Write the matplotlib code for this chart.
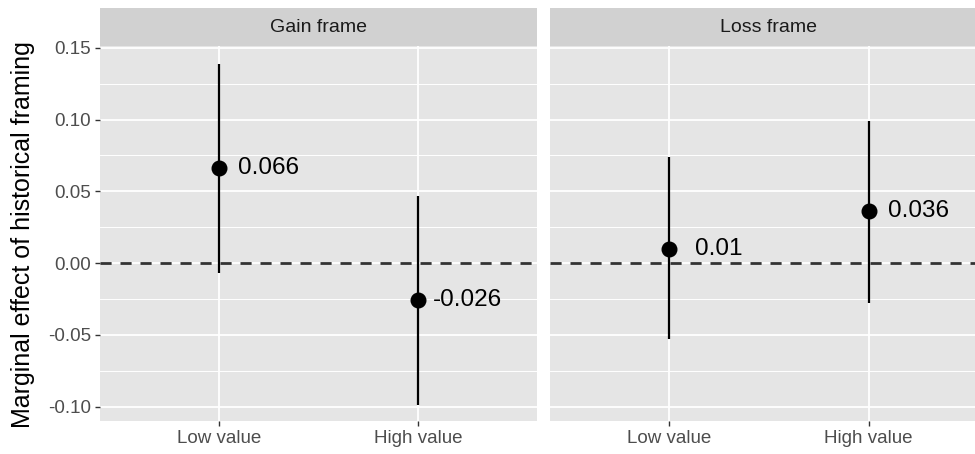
import matplotlib
matplotlib.use("Agg")
import matplotlib.pyplot as plt
from matplotlib.ticker import MultipleLocator

plt.rcParams['font.family'] = ['Liberation Sans', 'DejaVu Sans']

# marginal effects with 95% intervals, one facet per frame
frames = ['Gain frame', 'Loss frame']
conditions = ['Low value', 'High value']
estimates = {'Gain frame': [0.066, -0.026], 'Loss frame': [0.010, 0.036]}
lower = {'Gain frame': [-0.007, -0.099], 'Loss frame': [-0.053, -0.028]}
upper = {'Gain frame': [0.139, 0.047], 'Loss frame': [0.074, 0.099]}
labels = {'Gain frame': ['0.066', '-0.026'], 'Loss frame': ['0.01', '0.036']}

W, H = 975, 454
fig = plt.figure(figsize=(W / 100, H / 100), dpi=100)

def box(x0, y0, x1, y1):
    # pixel box -> figure fraction rect
    return [x0 / W, 1 - y1 / H, (x1 - x0) / W, (y1 - y0) / H]

panels = [(100, 537), (550, 988)]
strip_top, panel_top, panel_bot = 8, 46, 420.7

for i, (frame, (x0, x1)) in enumerate(zip(frames, panels)):
    ax = fig.add_axes(box(x0, panel_top, x1, panel_bot))
    ax.set_facecolor('#E5E5E5')
    for s in ax.spines.values():
        s.set_visible(False)
    xs = list(range(1, len(conditions) + 1))
    ax.set_xlim(0.4, 2.6)
    ax.set_ylim(-0.1097, 0.1512)
    ax.set_xticks(xs)
    ax.set_xticklabels(conditions)
    ax.yaxis.set_major_locator(MultipleLocator(0.05))
    ax.yaxis.set_minor_locator(MultipleLocator(0.025))
    ax.grid(True, which='major', color='white', linewidth=1.3)
    ax.grid(True, which='minor', axis='y', color='white', linewidth=0.7)
    ax.set_axisbelow(True)
    ax.tick_params(axis='both', which='major', length=3.5, width=1.0,
                   color='#333333', labelcolor='#4D4D4D', labelsize=13.5, pad=3)
    ax.tick_params(axis='y', which='minor', length=0)
    ax.yaxis.set_major_formatter(lambda v, p: f'{v:.2f}')
    if i > 0:
        ax.tick_params(axis='y', which='major', length=0, labelleft=False)

    ax.axhline(0, color='#333333', linewidth=2.0, linestyle=(0, (4, 3.2)), zorder=2)
    ax.vlines(xs, lower[frame], upper[frame], color='black', linewidth=1.6, zorder=3)
    ax.plot(xs, estimates[frame], 'o', color='black', markersize=10.5, zorder=4)
    for x, y, t in zip(xs, estimates[frame], labels[frame]):
        ax.text(x + 0.25, y, t, ha='center', va='center', fontsize=17.5, color='black', zorder=5)

    strip = fig.add_axes(box(x0, strip_top, x1, panel_top))
    strip.set_facecolor('#D1D1D1')
    strip.set_xticks([])
    strip.set_yticks([])
    for s in strip.spines.values():
        s.set_visible(False)
    strip.text(0.5, 0.5, frame, transform=strip.transAxes,
               ha='center', va='center', fontsize=14, color='#1A1A1A')

fig.text(23 / W, 1 - 235 / H, 'Marginal effect of historical framing', rotation=90,
         ha='center', va='center', fontsize=18, color='black')

fig.savefig('out.png', dpi=100)
